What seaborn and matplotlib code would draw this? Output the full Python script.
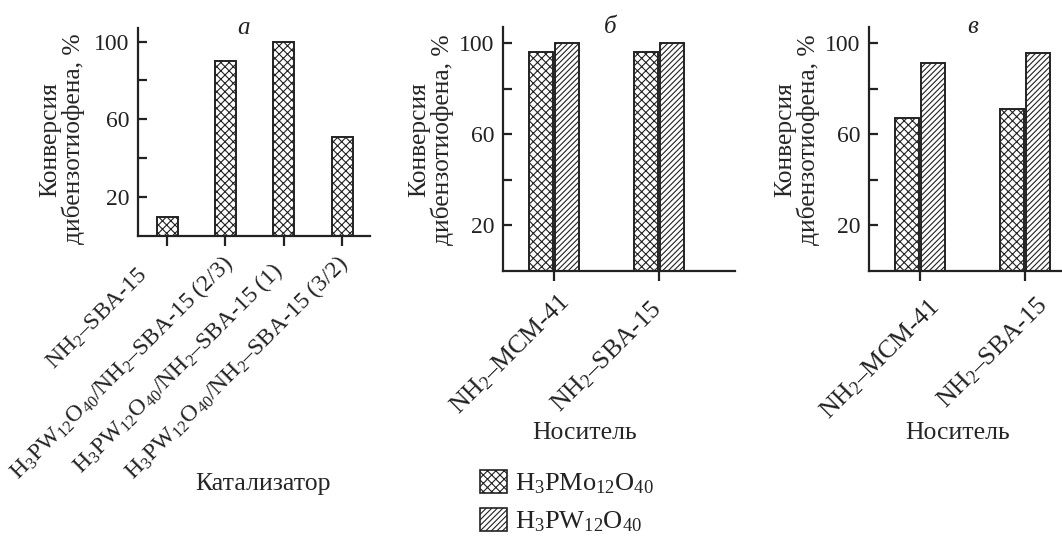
import numpy as np
import pandas as pd
import matplotlib
matplotlib.use("Agg")
import matplotlib.pyplot as plt
from matplotlib.patches import Patch
from matplotlib.transforms import ScaledTranslation
import seaborn as sns

# --- data ---
catalysts = [r"NH$_2$–SBA-15",
             r"H$_3$PW$_{12}$O$_{40}$/NH$_2$–SBA-15 (2/3)",
             r"H$_3$PW$_{12}$O$_{40}$/NH$_2$–SBA-15 (1)",
             r"H$_3$PW$_{12}$O$_{40}$/NH$_2$–SBA-15 (3/2)"]
conv_a = [10, 90, 100, 51]

supports = [r"NH$_2$–MCM-41", r"NH$_2$–SBA-15"]
acids = [r"H$_3$PMo$_{12}$O$_{40}$", r"H$_3$PW$_{12}$O$_{40}$"]
conv_b_mo = [96, 96]
conv_b_w = [100, 100]
conv_c_mo = [67, 71]
conv_c_w = [91, 95.5]

hatches = ["xxxx", "//////"]
ylab = "Конверсия\nдибензотиофена, %"

sns.set_style("ticks")
plt.rcParams["font.family"] = ["Liberation Serif", "DejaVu Serif"]
plt.rcParams["mathtext.fontset"] = "custom"
plt.rcParams["mathtext.rm"] = "Liberation Serif"
plt.rcParams["mathtext.it"] = "Liberation Serif:italic"
plt.rcParams["mathtext.default"] = "regular"
plt.rcParams["hatch.color"] = "#222222"
plt.rcParams["hatch.linewidth"] = 0.8
plt.rcParams["text.color"] = "#222222"

fig = plt.figure(figsize=(10.62, 5.37), dpi=100)
W, H = 1062, 537


def make_ax(left, top, right, bottom):
    return fig.add_axes([left / W, 1 - bottom / H, (right - left) / W, (bottom - top) / H])


def style_ax(ax, xlim, xfs):
    ax.set_ylim(0, 107)
    ax.set_xlim(*xlim)
    ax.set_yticks([20, 40, 60, 80, 100])
    ax.set_yticklabels(["20", "", "60", "", "100"])
    sns.despine(ax=ax)
    for s in ["left", "bottom"]:
        ax.spines[s].set_linewidth(1.6)
        ax.spines[s].set_color("#222222")
    ax.tick_params(axis="y", direction="in", length=6.5, width=1.6, labelsize=17, pad=6, colors="#222222")
    ax.tick_params(axis="x", direction="out", length=7, width=1.6, labelsize=xfs, pad=6, colors="#222222")
    for lab in ax.get_xticklabels():
        lab.set_rotation(45)
        lab.set_ha("right")
    ax.set_ylabel(ylab, fontsize=18.4, linespacing=1.0)


def shift_labels(ax, offsets):
    # nudge each rotated tick label (pixels: right, down)
    for lab, (dx, dy) in zip(ax.get_xticklabels(), offsets):
        lab.set_transform(lab.get_transform() + ScaledTranslation(dx / 100, -dy / 100, fig.dpi_scale_trans))


# panel a
df_a = pd.DataFrame({"cat": catalysts, "conv": conv_a})
ax_a = make_ax(138, 28, 370, 236)
sns.barplot(data=df_a, x="cat", y="conv", color="white", saturation=1,
            edgecolor="#222222", linewidth=1.4, width=0.36, ax=ax_a)
for bar in ax_a.patches:
    bar.set_hatch(hatches[0])
style_ax(ax_a, (-0.5, 3.48), 17)
shift_labels(ax_a, [(-15, 10), (13, -3), (5, 4), (12, -3)])
ax_a.set_xlabel("Катализатор", fontsize=18.5)
ax_a.xaxis.set_label_coords(0.539, -1.19)
ax_a.xaxis.label.set_va("center")
ax_a.yaxis.set_label_coords(-0.327, 0.466)
ax_a.yaxis.label.set_va("center")
ax_a.text(0.453, 1.0, "а", transform=ax_a.transAxes, ha="center", va="center",
          style="italic", fontsize=18)

# panels b and c
panels = [
    (503, 735, conv_b_mo, conv_b_w, "б", 0.461, 0.353, [(20, 1), (8, 8)]),
    (869, 1101, conv_c_mo, conv_c_w, "в", 0.448, 0.384, [(24, 6), (28, 4)]),
]
for left, right, mo, w, letter, tx, lx, offs in panels:
    df = pd.DataFrame({
        "support": supports * 2,
        "acid": [acids[0]] * 2 + [acids[1]] * 2,
        "conv": mo + w,
    })
    ax = make_ax(left, 27, right, 271)
    sns.barplot(data=df, x="support", y="conv", hue="acid", palette=["white", "white"],
                saturation=1, edgecolor="#222222", linewidth=1.4, width=0.505, gap=0.09,
                legend=False, ax=ax)
    for cont, h in zip(ax.containers, hatches):
        for bar in cont:
            bar.set_hatch(h)
    style_ax(ax, (-0.486, 1.724), 18.5)
    shift_labels(ax, offs)
    ax.set_xlabel("Носитель", fontsize=18.5)
    ax.xaxis.set_label_coords(lx, -0.664)
    ax.xaxis.label.set_va("center")
    ax.yaxis.set_label_coords(-0.31, 0.537)
    ax.yaxis.label.set_va("center")
    ax.text(tx, 1.0, letter, transform=ax.transAxes, ha="center", va="center",
            style="italic", fontsize=18)

handles = [Patch(facecolor="white", edgecolor="#222222", hatch=h, linewidth=1.2) for h in hatches]
fig.legend(handles, acids, loc="upper left", bbox_to_anchor=(480 / W, 1 - 470 / H),
           frameon=False, fontsize=19, borderpad=0, borderaxespad=0,
           handlelength=1.02, handleheight=0.95, handletextpad=0.3, labelspacing=0.45)

fig.savefig("out.png", dpi=100)
